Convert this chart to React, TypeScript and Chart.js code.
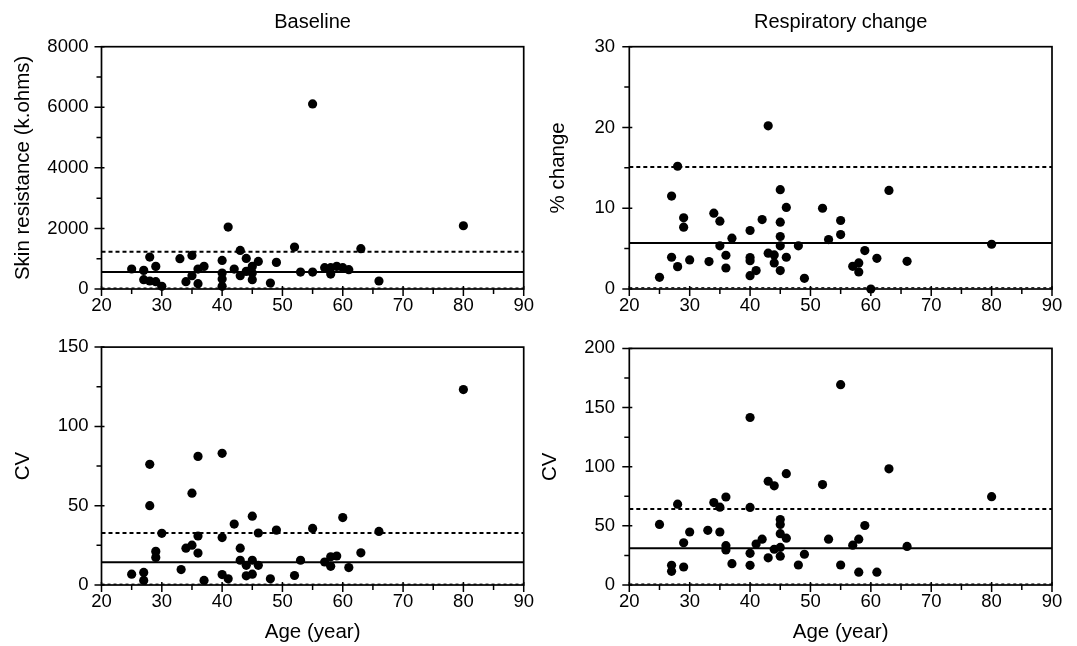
import React, { useEffect, useRef } from 'react';
import { Chart, registerables } from 'chart.js';

Chart.register(...registerables);

const FONT = "'Liberation Sans', Arial, Helvetica, sans-serif";

// ---------- Baseline: skin resistance (k.ohms) ----------
const baseResAges = [25, 27, 28, 29, 27, 28, 29, 30, 33, 35, 34, 35, 36, 36, 37, 40, 40, 40, 40, 41, 42, 43, 44, 43, 44, 45, 45, 45, 46, 48, 49, 52, 53, 55, 55, 57, 58, 58, 59, 60, 61, 63, 66, 80];
const baseResValues = [660, 615, 1055, 747, 308, 264, 242, 88, 1000, 1110, 242, 440, 176, 659, 747, 945, 527, 330, 88, 2044, 659, 1275, 1011, 440, 582, 747, 527, 308, 912, 198, 879, 1385, 560, 6110, 560, 703, 494, 703, 747, 703, 637, 1330, 264, 2088];
const baseResLines = [560, 1230, 30]; // mean, upper, lower

// ---------- Respiratory change: % change ----------
const respPctAges = [25, 27, 27, 28, 28, 29, 29, 30, 33.2, 34, 35, 35, 36, 36, 37, 40, 40, 40, 40, 41, 42, 43, 43, 44, 44, 45, 45, 45, 45, 45, 46, 46, 48, 49, 52, 53, 55, 55, 57, 58, 58, 59, 60, 61, 63, 66, 80];
const respPctValues = [1.45, 11.5, 3.93, 15.2, 2.77, 8.81, 7.65, 3.6, 3.39, 9.39, 8.4, 5.34, 4.18, 2.6, 6.29, 7.24, 3.9, 3.5, 1.65, 2.28, 8.6, 20.2, 4.43, 4.22, 3.23, 12.3, 8.27, 6.5, 5.34, 2.28, 10.1, 3.93, 5.34, 1.32, 10.0, 6.12, 8.48, 6.74, 2.81, 3.23, 2.11, 4.76, 0, 3.8, 12.2, 3.43, 5.54];
const respPctLines = [5.7, 15.1, 0.15];

// ---------- Baseline: CV ----------
const baseCvAges = [25, 27, 27, 28, 28, 29, 29, 30, 33.2, 34, 35, 35, 36, 36, 36, 37, 40, 40, 40, 41, 42, 43, 43, 44, 44, 45, 45, 45, 46, 46, 48, 49, 52, 53, 55, 57, 58, 58, 59, 60, 61, 63, 66, 80];
const baseCvValues = [6.8, 7.9, 2.9, 76.1, 50, 21.2, 17.4, 32.6, 9.75, 23.2, 57.9, 25.1, 81.1, 30.9, 20.1, 2.9, 83, 29.9, 6.6, 3.9, 38.4, 23.2, 15.6, 12.4, 5.8, 43.4, 15.6, 6.8, 32.8, 12.4, 3.9, 34.6, 6.0, 15.6, 35.7, 14.5, 17.8, 11.8, 18.3, 42.5, 11.0, 20.3, 33.8, 123.2];
const baseCvLines = [14.3, 32.8, 0.5];

// ---------- Respiratory change: CV ----------
const respCvAges = [25, 27, 27, 28, 29, 30, 29, 33, 34, 35, 35, 36, 36, 36, 37, 40, 40, 40, 40, 41, 42, 43, 44, 43, 44, 45, 45, 45, 45, 45, 46, 46, 48, 49, 52, 53, 55, 55, 57, 58, 58, 59, 61, 63, 66, 80];
const respCvValues = [51.2, 16.6, 11.6, 68.3, 15.2, 44.8, 35.7, 46.2, 69.7, 44.8, 65.8, 74.4, 33.2, 29.6, 18, 141.6, 65.6, 26.8, 16.6, 34.6, 38.7, 87.7, 83.8, 23, 30.2, 55.3, 51.2, 43.4, 31.8, 24.3, 94.1, 39.6, 16.9, 26, 84.9, 38.7, 169.3, 16.9, 33.7, 38.7, 10.8, 50.3, 10.8, 98.2, 32.6, 74.7];
const respCvLines = [31, 64.2, 0.8];

const xTicksMin = 20;
const xTicksMax = 90;

type Spec = {
  left: number; top: number; width: number; height: number;
  title?: string; xTitle?: string; yTitle: string;
  ages: number[]; values: number[]; lines: number[];
  yMax: number; yStep: number; yMinor: number;
  padTop: number; padRight: number;
  yAxisWidth: number; yTickPad: number; yTitlePad: number;
  xAxisHeight: number; xTickPad: number; xTitlePad: number;
};

const framePlugin = {
  id: 'frame',
  afterDraw(chart: any, _args: any, opts: any) {
    const { ctx, chartArea: a, scales } = chart;
    const x = scales.x; const y = scales.y;
    ctx.save();
    ctx.strokeStyle = '#000';
    ctx.lineWidth = 1.7;
    ctx.strokeRect(a.left, a.top, a.right - a.left, a.bottom - a.top);
    ctx.lineWidth = 1.5;
    ctx.beginPath();
    for (let v = x.min; v <= x.max + 1e-9; v += opts.xMinor) {
      const px = x.getPixelForValue(v);
      const major = Math.abs(v % opts.xMajor) < 1e-9;
      ctx.moveTo(px, a.bottom - (major ? 3 : 0));
      ctx.lineTo(px, a.bottom + (major ? 7 : 5));
    }
    for (let v = y.min; v <= y.max + 1e-9; v += opts.yMinor) {
      const py = y.getPixelForValue(v);
      const major = Math.abs(v % opts.yMajor) < 1e-9;
      ctx.moveTo(a.left + (major ? 3 : 0), py);
      ctx.lineTo(a.left - (major ? 7 : 5), py);
    }
    ctx.stroke();
    if (opts.title) {
      ctx.fillStyle = '#000';
      ctx.font = `20px ${FONT}`;
      ctx.textAlign = 'center';
      ctx.textBaseline = 'middle';
      ctx.fillText(opts.title, (a.left + a.right) / 2, 22);
    }
    ctx.restore();
  },
};

function Panel({ s }: { s: Spec }) {
  const ref = useRef<HTMLCanvasElement>(null);
  useEffect(() => {
    if (!ref.current) return;
    const [mean, upper, lower] = s.lines;
    const hline = (v: number, dash: number[], w: number) => ({
      type: 'line' as const,
      data: [{ x: xTicksMin, y: v }, { x: xTicksMax, y: v }],
      borderColor: '#000',
      borderWidth: w,
      borderDash: dash,
      pointRadius: 0,
      fill: false,
    });
    const tickFont = { family: FONT, size: 18.5, lineHeight: 1.2 };
    const titleFont = { family: FONT, size: 20.5, lineHeight: 1.2 };
    const chart = new Chart(ref.current, {
      type: 'scatter',
      data: {
        datasets: [
          {
            type: 'scatter',
            data: s.ages.map((a, i) => ({ x: a, y: s.values[i] })),
            backgroundColor: '#000',
            borderWidth: 0,
            pointRadius: 4.6,
            clip: false,
          } as any,
          hline(mean, [], 2),
          hline(upper, [4, 3], 2),
          hline(lower, [3, 3], 1.2),
        ],
      },
      options: {
        animation: false,
        responsive: false,
        maintainAspectRatio: false,
        devicePixelRatio: 1,
        layout: { padding: { left: 0, right: s.padRight, top: s.padTop, bottom: 0 } },
        plugins: {
          legend: { display: false },
          tooltip: { enabled: false },
          title: { display: false },
          frame: { xMinor: 5, xMajor: 10, yMinor: s.yMinor, yMajor: s.yStep, title: s.title },
        } as any,
        scales: {
          x: {
            type: 'linear',
            min: xTicksMin,
            max: xTicksMax,
            afterFit: (sc: any) => { sc.height = s.xAxisHeight; },
            grid: { display: false, drawTicks: false },
            border: { display: false },
            ticks: { stepSize: 10, color: '#000', padding: s.xTickPad, font: tickFont, maxRotation: 0, autoSkip: false, callback: (v: any) => String(v) },
            title: s.xTitle
              ? { display: true, text: s.xTitle, color: '#000', font: titleFont, padding: { top: 0, bottom: s.xTitlePad } }
              : { display: false },
          },
          y: {
            type: 'linear',
            min: 0,
            max: s.yMax,
            afterFit: (sc: any) => { sc.width = s.yAxisWidth; },
            grid: { display: false, drawTicks: false },
            border: { display: false },
            ticks: { stepSize: s.yStep, color: '#000', padding: s.yTickPad, font: tickFont, callback: (v: any) => String(v) },
            title: { display: true, text: s.yTitle, color: '#000', font: titleFont, padding: { top: s.yTitlePad, bottom: 0 } },
          },
        },
      } as any,
      plugins: [framePlugin],
    });
    return () => chart.destroy();
  }, [s]);
  return (
    <canvas
      ref={ref}
      width={s.width}
      height={s.height}
      style={{ position: 'absolute', left: s.left, top: s.top, width: s.width, height: s.height }}
    />
  );
}

const specs: Spec[] = [
  {
    left: 0, top: 0, width: 540, height: 330,
    title: 'Baseline', yTitle: 'Skin resistance (k.ohms)',
    ages: baseResAges, values: baseResValues, lines: baseResLines,
    yMax: 8000, yStep: 2000, yMinor: 1000,
    padTop: 46.7, padRight: 15,
    yAxisWidth: 101.5, yTickPad: 13, yTitlePad: 10.7,
    xAxisHeight: 41, xTickPad: 6, xTitlePad: 0,
  },
  {
    left: 530, top: 0, width: 547, height: 330,
    title: 'Respiratory change', yTitle: '% change',
    ages: respPctAges, values: respPctValues, lines: respPctLines,
    yMax: 30, yStep: 10, yMinor: 5,
    padTop: 46.7, padRight: 25,
    yAxisWidth: 99.3, yTickPad: 14.3, yTitlePad: 15.7,
    xAxisHeight: 41, xTickPad: 6, xTitlePad: 0,
  },
  {
    left: 0, top: 323, width: 540, height: 323,
    xTitle: 'Age (year)', yTitle: 'CV',
    ages: baseCvAges, values: baseCvValues, lines: baseCvLines,
    yMax: 150, yStep: 50, yMinor: 25,
    padTop: 21, padRight: 15,
    yAxisWidth: 101.5, yTickPad: 13, yTitlePad: 10.7,
    xAxisHeight: 61, xTickPad: 6, xTitlePad: 1.7,
  },
  {
    left: 530, top: 323, width: 547, height: 323,
    xTitle: 'Age (year)', yTitle: 'CV',
    ages: respCvAges, values: respCvValues, lines: respCvLines,
    yMax: 200, yStep: 50, yMinor: 25,
    padTop: 21, padRight: 25,
    yAxisWidth: 99.3, yTickPad: 14.3, yTitlePad: 7.7,
    xAxisHeight: 61, xTickPad: 6, xTitlePad: 1.7,
  },
];

export default function App() {
  return (
    <div style={{ position: 'absolute', left: 0, top: 0, width: 1077, height: 646, background: '#fff', overflow: 'hidden' }}>
      {specs.map((s, i) => <Panel key={i} s={s} />)}
    </div>
  );
}
